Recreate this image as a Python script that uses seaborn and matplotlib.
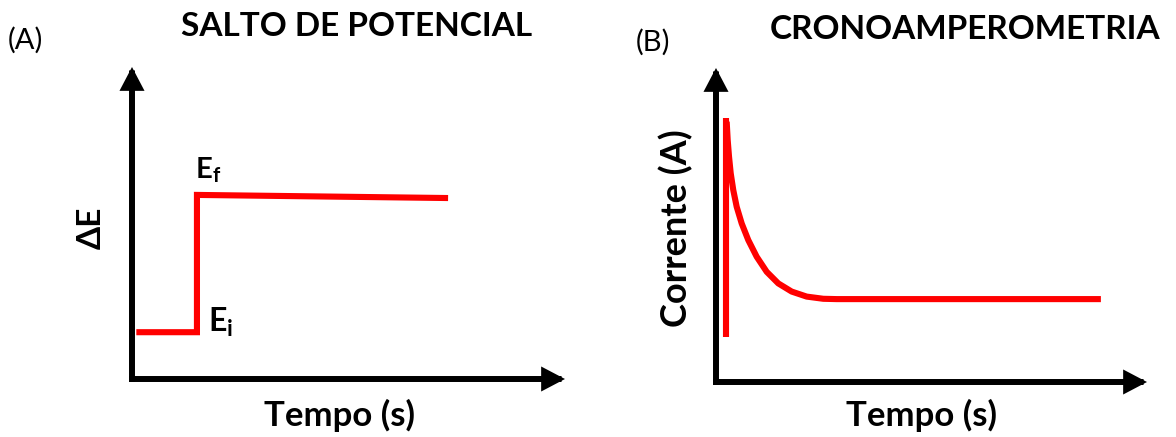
import matplotlib
matplotlib.use("Agg")
import matplotlib.pyplot as plt
import seaborn as sns
import pandas as pd

# --- Data -------------------------------------------------------------
# (A) potential step: E_i held, then stepped up to E_f
step_time = [0.1, 1.5, 1.5, 7.3]
step_potential = [1.5, 1.5, 5.9, 5.8]

# (B) chronoamperometric response: initial spike, then decay to a plateau
spike_time = [0.23, 0.23]
spike_current = [8.4, 1.43]
decay_time = [0.248, 0.271, 0.302, 0.341, 0.401, 0.48, 0.596, 0.749, 0.944,
              1.176, 1.445, 1.756, 2.104, 2.49, 2.80, 8.93]
decay_current = [8.29, 7.71, 7.18, 6.65, 6.11, 5.58, 5.05, 4.52, 3.99,
                 3.51, 3.14, 2.88, 2.72, 2.65, 2.64, 2.64]

titles = ["SALTO DE POTENCIAL", "CRONOAMPEROMETRIA"]
panel_tags = ["(A)", "(B)"]
x_label = "Tempo (s)"
y_labels = ["\u0394E", "Corrente (A)"]

# --- Style ------------------------------------------------------------
sns.set_theme(style="white")
plt.rcParams["font.family"] = ["Lato", "DejaVu Sans"]
plt.rcParams["text.color"] = "black"
plt.rcParams["mathtext.fontset"] = "custom"
plt.rcParams["mathtext.rm"] = "Lato"
plt.rcParams["mathtext.bf"] = "Lato:bold"
plt.rcParams["mathtext.it"] = "Lato:italic"

RED = "#ff0000"
W, H = 1176, 437
fig = plt.figure(figsize=(W / 100, H / 100), dpi=100)
fig.patch.set_facecolor("white")


def box(left, top, right, bottom):
    return [left / W, 1 - bottom / H, (right - left) / W, (bottom - top) / H]


def arrow_axes(ax):
    style = "-|>,head_length=0.8,head_width=0.42"
    for end in [(1, 0), (0, 1)]:
        ax.annotate("", xy=end, xytext=(0, 0), xycoords="axes fraction",
                    textcoords="axes fraction",
                    arrowprops=dict(arrowstyle=style, mutation_scale=13,
                                    lw=4.3, color="black", shrinkA=0,
                                    shrinkB=0, joinstyle="miter",
                                    capstyle="projecting"),
                    annotation_clip=False)


axA = fig.add_axes(box(132, 67, 565, 379))
axB = fig.add_axes(box(716, 68, 1147, 382))
for ax in (axA, axB):
    ax.set_xlim(0, 10)
    ax.set_ylim(0, 10)
    ax.set_axis_off()
    arrow_axes(ax)

# --- Panel A ----------------------------------------------------------
dfA = pd.DataFrame({"t": step_time, "E": step_potential})
sns.lineplot(data=dfA, x="t", y="E", ax=axA, sort=False, estimator=None,
             color=RED, lw=4.4, solid_joinstyle="miter",
             solid_capstyle="butt")
axA.text(step_time[1] - 0.05, step_potential[2] + 0.52, r"$\mathbf{E_f}$",
         fontsize=21, ha="left", va="baseline", color="black")
axA.text(step_time[1] + 0.25, step_potential[0], r"$\mathbf{E_i}$",
         fontsize=23, ha="left", va="baseline", color="black")
axA.text(0.48, -0.151, x_label, transform=axA.transAxes, fontsize=25,
         fontweight="bold", ha="center", va="baseline", color="black")
axA.text(-0.095, 0.485, y_labels[0], transform=axA.transAxes, fontsize=24,
         fontweight="bold", ha="center", va="center", rotation=90,
         color="black")

# --- Panel B ----------------------------------------------------------
dfS = pd.DataFrame({"t": spike_time, "i": spike_current})
dfD = pd.DataFrame({"t": decay_time, "i": decay_current})
sns.lineplot(data=dfS, x="t", y="i", ax=axB, sort=False, estimator=None,
             color=RED, lw=4.4, solid_capstyle="butt")
sns.lineplot(data=dfD, x="t", y="i", ax=axB, sort=False, estimator=None,
             color=RED, lw=4.4, solid_capstyle="butt",
             solid_joinstyle="round")
axB.text(0.476, -0.14, x_label, transform=axB.transAxes, fontsize=25,
         fontweight="bold", ha="center", va="baseline", color="black")
axB.text(-0.093, 0.49, y_labels[1], transform=axB.transAxes, fontsize=26,
         fontweight="bold", ha="center", va="center", rotation=90,
         color="black")

# --- Titles and panel tags ---------------------------------------------
fig.text(357 / W, 1 - 36 / H, titles[0], fontsize=24, fontweight="bold",
         ha="center", va="baseline", color="black")
fig.text(965 / W, 1 - 39 / H, titles[1], fontsize=24, fontweight="bold",
         ha="center", va="baseline", color="black")
fig.text(8 / W, 1 - 40 / H, panel_tags[0], fontsize=21, ha="left",
         va="center", color="black")
fig.text(636 / W, 1 - 42 / H, panel_tags[1], fontsize=21, ha="left",
         va="center", color="black")

fig.savefig("out.png", dpi=100, facecolor="white")
